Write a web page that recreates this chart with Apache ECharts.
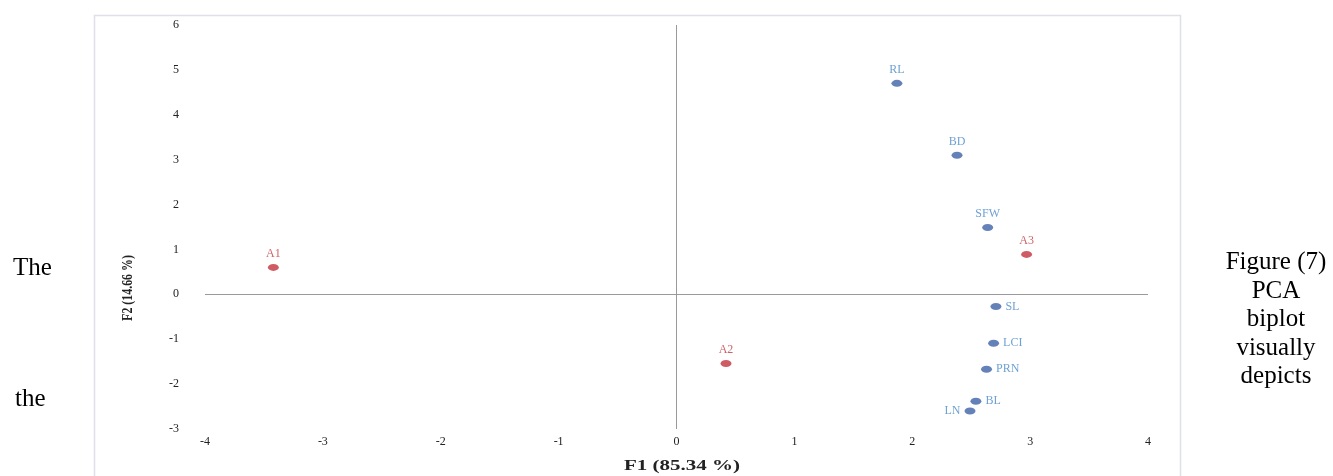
<!DOCTYPE html>
<html>
<head>
<meta charset="utf-8">
<script src="https://cdn.jsdelivr.net/npm/echarts@6/dist/echarts.min.js"></script>
<style>
  body { margin: 0; background: #fff; }
  #pca { position: absolute; left: 0; top: 0; width: 1333px; height: 476px; }
  .txt { position: absolute; font-family: "Liberation Serif", serif; font-size: 25px; color: #000; line-height: 28.5px; }
</style>
</head>
<body>
<div id="pca"></div>
<div class="txt" style="left:13px; top:253px;">The</div>
<div class="txt" style="left:15px; top:384px;">the</div>
<div class="txt" style="left:1208px; top:247px; width:136px; text-align:center;">Figure (7)<br>PCA<br>biplot<br>visually<br>depicts</div>
<script>
// variables (blue)
var varNames = ['RL', 'BD', 'SFW', 'SL', 'LCI', 'PRN', 'BL', 'LN'];
var varF1 = [1.87, 2.38, 2.64, 2.71, 2.69, 2.63, 2.54, 2.49];
var varF2 = [4.70, 3.10, 1.49, -0.27, -1.09, -1.67, -2.38, -2.60];
// treatments (red)
var obsNames = ['A1', 'A2', 'A3'];
var obsF1 = [-3.42, 0.42, 2.97];
var obsF2 = [0.60, -1.54, 0.89];
var xTicks = [-4, -3, -2, -1, 0, 1, 2, 3, 4];
var yTicks = [-3, -2, -1, 0, 1, 2, 3, 4, 5, 6];
var xTitle = 'F1 (85.34 %)';
var yTitle = 'F2 (14.66 %)';

// where each label sits relative to its dot
var labelSide = { SL: 'right', LCI: 'right', PRN: 'right', BL: 'right', LN: 'left' };

function points(names, xs, ys) {
    return names.map(function (n, i) {
        return {
            name: n,
            value: [xs[i], ys[i]],
            label: { position: labelSide[n] || 'top' }
        };
    });
}

var chart = echarts.init(document.getElementById('pca'));

var tickFont = { fontFamily: 'Liberation Serif', fontSize: 12, color: '#222' };

option = {
    animation: false,
    grid: { left: 205, right: 185, top: 25, bottom: 47 },
    xAxis: {
        type: 'value',
        min: xTicks[0], max: xTicks[xTicks.length - 1], interval: 1,
        axisLine: { show: false }, axisTick: { show: false }, splitLine: { show: false },
        axisLabel: Object.assign({ margin: 7 }, tickFont)
    },
    yAxis: {
        type: 'value',
        min: yTicks[0], max: yTicks[yTicks.length - 1], interval: 1,
        axisLine: { show: false }, axisTick: { show: false }, splitLine: { show: false },
        axisLabel: Object.assign({ margin: 26 }, tickFont)
    },
    graphic: [
        {
            type: 'rect', left: 92, top: 13, silent: true, z: -1,
            shape: { width: 1086, height: 480 },
            style: { fill: 'none', stroke: '#dfe0e8', lineWidth: 1.5 }
        },
        {
            type: 'text', x: 682, y: 466, scaleX: 1.4, silent: true,
            style: { text: xTitle, fontFamily: 'Liberation Serif', fontSize: 15, fontWeight: 'bold',
                     fill: '#222', align: 'center', verticalAlign: 'middle' }
        },
        {
            type: 'text', x: 128, y: 288, rotation: Math.PI / 2, scaleX: 0.85, silent: true,
            style: { text: yTitle, fontFamily: 'Liberation Serif', fontSize: 14, fontWeight: 'bold',
                     fill: '#222', align: 'center', verticalAlign: 'middle' }
        }
    ],
    series: [
        {
            name: 'variables',
            type: 'scatter',
            symbol: 'circle',
            symbolSize: [11, 7],
            itemStyle: { color: '#3d62a6' },
            label: {
                show: true, distance: 4, formatter: '{b}',
                fontFamily: 'Liberation Serif', fontSize: 12, color: '#4a8ac8'
            },
            data: points(varNames, varF1, varF2),
            markLine: {
                silent: true, symbol: 'none', label: { show: false },
                lineStyle: { color: '#9a9a9a', width: 1, type: 'solid' },
                data: [{ xAxis: 0 }, { yAxis: 0 }]
            }
        },
        {
            name: 'treatments',
            type: 'scatter',
            symbol: 'circle',
            symbolSize: [11, 7],
            itemStyle: { color: '#c3333d' },
            label: {
                show: true, distance: 4, formatter: '{b}',
                fontFamily: 'Liberation Serif', fontSize: 12, color: '#c23a40'
            },
            data: points(obsNames, obsF1, obsF2)
        }
    ]
};
chart.setOption(option);
</script>
</body>
</html>
